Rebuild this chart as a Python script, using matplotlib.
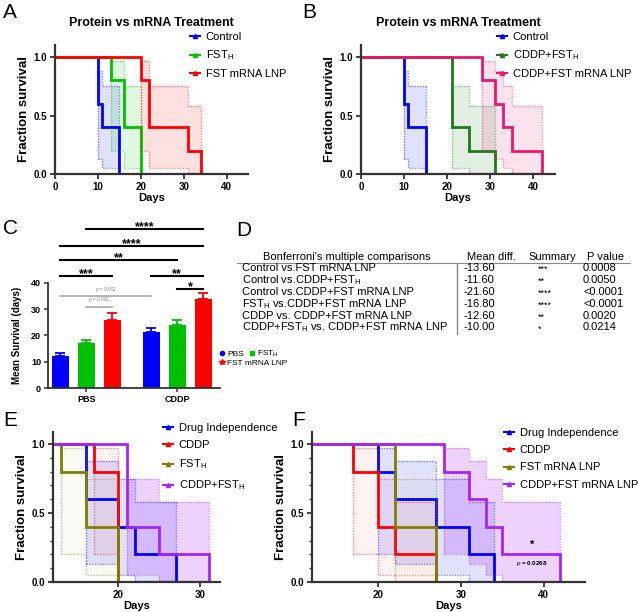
import matplotlib
matplotlib.use("Agg")
import matplotlib.pyplot as plt
from matplotlib.lines import Line2D
from matplotlib.ticker import FormatStrFormatter, MultipleLocator
import numpy as np

plt.rcParams['font.family'] = 'Liberation Sans'
plt.rcParams['mathtext.fontset'] = 'custom'
plt.rcParams['mathtext.rm'] = 'Liberation Sans'
plt.rcParams['mathtext.it'] = 'Liberation Sans:italic'
plt.rcParams['mathtext.bf'] = 'Liberation Sans:bold'

H_SUB = r'$_{\mathregular{H}}$'

BLUE = '#0000ff'
RED = '#ff0000'
GREEN = '#00c000'
DKGREEN = '#1c7a1c'
PINK = '#e8186e'
OLIVE = '#808000'
PURPLE = '#a526f0'
AXCOL = '#333333'

# ---- survival data: drop days, survival after each drop, 95% CI per interval
# panel A
A_ctrl_t = [0, 10, 11, 15]
A_ctrl_s = [1, 0.6, 0.4, 0]
A_ctrl_hi = [0.88, 0.75]
A_ctrl_lo = [0.13, 0.05]
A_fst_t = [0, 13, 16, 20]
A_fst_s = [1, 0.8, 0.4, 0]
A_fst_hi = [0.97, 0.75]
A_fst_lo = [0.20, 0.05]
A_lnp_t = [0, 20, 22, 31, 34]
A_lnp_s = [1, 0.8, 0.4, 0.2, 0]
A_lnp_hi = [0.97, 0.75, 0.58]
A_lnp_lo = [0.20, 0.05, 0.01]
# panel B
B_cfst_t = [0, 21, 25, 31]
B_cfst_s = [1, 0.4, 0.2, 0]
B_cfst_hi = [0.75, 0.58]
B_cfst_lo = [0.05, 0.01]
B_clnp_t = [0, 28, 31, 33, 35, 42]
B_clnp_s = [1, 0.8, 0.6, 0.4, 0.2, 0]
B_clnp_hi = [0.97, 0.88, 0.75, 0.58]
B_clnp_lo = [0.20, 0.13, 0.05, 0.01]
# panel E
E_drug_t = [0, 16, 20, 22, 27]
E_drug_s = [1, 0.6, 0.4, 0.2, 0]
E_drug_hi = [0.88, 0.75, 0.58]
E_drug_lo = [0.13, 0.05, 0.01]
E_cddp_t = [0, 17, 20]
E_cddp_s = [1, 0.8, 0]
E_cddp_hi = [0.97]
E_cddp_lo = [0.20]
E_fst_t = [0, 13, 16, 20]
E_fst_s = [1, 0.8, 0.4, 0]
E_fst_hi = [0.97, 0.75]
E_fst_lo = [0.20, 0.05]
E_comb_t = [0, 21, 25, 31]
E_comb_s = [1, 0.4, 0.2, 0]
E_comb_hi = [0.75, 0.58]
E_comb_lo = [0.05, 0.01]
# panel F
F_drug_t = [0, 20, 22, 27, 31, 34]
F_drug_s = [1, 0.8, 0.6, 0.4, 0.2, 0]
F_drug_hi = [0.97, 0.88, 0.75, 0.58]
F_drug_lo = [0.20, 0.13, 0.05, 0.01]
F_cddp_t = [0, 17, 20, 22, 27]
F_cddp_s = [1, 0.8, 0.4, 0.2, 0]
F_cddp_hi = [0.97, 0.75, 0.58]
F_cddp_lo = [0.20, 0.05, 0.01]
F_lnp_t = [0, 22, 27]
F_lnp_s = [1, 0.4, 0]
F_lnp_hi = [0.75]
F_lnp_lo = [0.05]
F_comb_t = [0, 28, 31, 33, 35, 42]
F_comb_s = [1, 0.8, 0.6, 0.4, 0.2, 0]
F_comb_hi = [0.97, 0.88, 0.75, 0.58]
F_comb_lo = [0.20, 0.13, 0.05, 0.01]

# ---- panel C bar data
C_groups = ['PBS', 'CDDP']
C_pbs = [12.2, 17.0, 25.8]
C_cddp = [21.2, 23.8, 33.8]
C_pbs_err = [1.2, 1.3, 2.8]
C_cddp_err = [1.7, 2.0, 2.3]
C_colors = [BLUE, GREEN, RED]
# bracket: bar i, bar j, height, label
C_sig = [(1, 5, 60.6, '****'), (0, 5, 54.0, '****'), (0, 4, 48.8, '**'),
         (0, 2, 42.7, '***'), (3, 5, 42.7, '**'), (4, 5, 37.7, '*')]
C_ns = [(0, 3, 35.0, 'p = 0.052'), (1, 2, 30.9, 'p = 0.062')]

# ---- panel D table
D_rows = ['Control vs.FST mRNA LNP', 'Control vs.CDDP+FST' + H_SUB,
          'Control vs.CDDP+FST mRNA LNP', 'FST' + H_SUB + ' vs.CDDP+FST mRNA LNP',
          'CDDP vs. CDDP+FST mRNA LNP', 'CDDP+FST' + H_SUB + ' vs. CDDP+FST mRNA LNP']
D_diff = ['-13.60', '-11.60', '-21.60', '-16.80', '-12.60', '-10.00']
D_summ = ['***', '**', '****', '****', '**', '*']
D_pval = ['0.0008', '0.0050', '<0.0001', '<0.0001', '0.0020', '0.0214']

W, H = 638, 612
fig = plt.figure(figsize=(W / 100, H / 100), dpi=100)


def add_ax(l, t, r, b):
    return fig.add_axes([l / W, 1 - b / H, (r - l) / W, (b - t) / H])


def km(ax, t, s, hi, lo, color, a=0.12):
    x = t[1:]
    up = hi + hi[-1:]
    dn = lo + lo[-1:]
    ax.fill_between(x, dn, up, step='post', color=color, alpha=a, lw=0)
    for yy in (up, dn):
        ax.step(x, yy, where='post', color=color, lw=1, ls=(0, (1, 1)), alpha=0.45)
    ax.vlines([x[0], x[-1]], [dn[0], dn[-1]], [up[0], up[-1]], color=color,
              lw=1, ls=(0, (1, 1)), alpha=0.45)
    ax.step(t, s, where='post', color=color, lw=2, solid_joinstyle='miter')


def style(ax, xlim, ylim, xticks, minor=False):
    ax.set_xlim(xlim)
    ax.set_ylim(ylim)
    ax.set_xticks(xticks)
    ax.set_yticks([0, 0.5, 1.0])
    ax.yaxis.set_major_formatter(FormatStrFormatter('%.1f'))
    if minor:
        ax.yaxis.set_minor_locator(MultipleLocator(0.1))
        ax.tick_params(axis='y', which='minor', length=2, width=1, color=AXCOL)
    for sp in ('top', 'right'):
        ax.spines[sp].set_visible(False)
    for sp in ('left', 'bottom'):
        ax.spines[sp].set_linewidth(1.6)
        ax.spines[sp].set_color(AXCOL)
    ax.tick_params(which='major', length=3.5, width=1.3, color=AXCOL, labelsize=7, pad=2)
    for lb in ax.get_xticklabels() + ax.get_yticklabels():
        lb.set_fontweight('bold')
    ax.set_xlabel('Days', fontsize=8, fontweight='bold', labelpad=1)
    ax.set_ylabel('Fraction survival', fontsize=9.5, fontweight='bold', labelpad=3)


def legend(items, x, y, fs=8, spacing=0.6):
    hs = [Line2D([], [], color=c, lw=1.5, marker='^', markersize=3) for c, _ in items]
    fig.legend(hs, [l for _, l in items], loc='upper left', bbox_to_anchor=(x / W, 1 - y / H),
               frameon=False, fontsize=fs, borderpad=0, handlelength=0.9, handletextpad=0.5,
               labelspacing=spacing, borderaxespad=0)


# ---- A
axA = add_ax(55, 45, 248, 174)
km(axA, A_ctrl_t, A_ctrl_s, A_ctrl_hi, A_ctrl_lo, BLUE)
km(axA, A_fst_t, A_fst_s, A_fst_hi, A_fst_lo, GREEN)
km(axA, A_lnp_t, A_lnp_s, A_lnp_hi, A_lnp_lo, RED)
style(axA, (0, 45), (0, 1.103), [0, 10, 20, 30, 40])
axA.set_title('Protein vs mRNA Treatment', fontsize=9, fontweight='bold', pad=14)
legend([(BLUE, 'Control'), (GREEN, 'FST' + H_SUB), (RED, 'FST mRNA LNP')], 190, 32)

# ---- B
axB = add_ax(361, 45, 555, 174)
km(axB, A_ctrl_t, A_ctrl_s, A_ctrl_hi, A_ctrl_lo, BLUE)
km(axB, B_cfst_t, B_cfst_s, B_cfst_hi, B_cfst_lo, DKGREEN)
km(axB, B_clnp_t, B_clnp_s, B_clnp_hi, B_clnp_lo, PINK)
style(axB, (0, 45), (0, 1.103), [0, 10, 20, 30, 40])
axB.set_title('Protein vs mRNA Treatment', fontsize=9, fontweight='bold', pad=14)
legend([(BLUE, 'Control'), (DKGREEN, 'CDDP+FST' + H_SUB), (PINK, 'CDDP+FST mRNA LNP')], 497, 32)

# ---- C
axC = add_ax(48, 225, 220, 388)
xpos = np.concatenate([np.arange(3), np.arange(3) + 3.5])
vals = C_pbs + C_cddp
errs = C_pbs_err + C_cddp_err
cols = C_colors * 2
for xi, v, e, c in zip(xpos, vals, errs, cols):
    axC.bar(xi, v, width=0.65, color=c, zorder=2)
    axC.errorbar(xi, v, yerr=[[0], [e]], color=c, capsize=3.5, elinewidth=1.3, capthick=1.3, zorder=1)
for i, j, h, lab in C_sig:
    axC.plot([xpos[i], xpos[j]], [h, h], color='black', lw=1.5, clip_on=False)
    axC.text((xpos[i] + xpos[j]) / 2, h - 0.4, lab, ha='center', va='baseline', fontsize=9,
             fontweight='bold', clip_on=False)
for i, j, h, lab in C_ns:
    axC.plot([xpos[i], xpos[j]], [h, h], color='#a0a0a0', lw=1.1)
    axC.text((xpos[i] + xpos[j]) / 2, h + 0.9, r'$\it{p}$' + lab[1:], ha='center', va='bottom',
             fontsize=3.5, color='#888888')
axC.set_xlim(-0.47, 6.15)
axC.set_ylim(0, 62)
axC.set_yticks([0, 10, 20, 30, 40])
axC.set_xticks([1, 4.5])
axC.set_xticklabels(C_groups)
axC.spines['left'].set_bounds(0, 40)
for sp in ('top', 'right'):
    axC.spines[sp].set_visible(False)
for sp in ('left', 'bottom'):
    axC.spines[sp].set_linewidth(1.3)
    axC.spines[sp].set_color(AXCOL)
axC.tick_params(length=3, width=1.1, color=AXCOL, labelsize=6.5, pad=2)
for lb in axC.get_xticklabels() + axC.get_yticklabels():
    lb.set_fontweight('bold')
axC.set_ylabel('Mean Survival (days)', fontsize=7, fontweight='bold')
axC.yaxis.set_label_coords(-0.15, 20 / 62)
leg_kw = dict(loc='upper left', frameon=False, fontsize=6, borderpad=0, handlelength=0.7,
              handletextpad=0.3, columnspacing=0.6, borderaxespad=0)
h1 = [Line2D([], [], ls='', marker='o', color=BLUE, markersize=3),
      Line2D([], [], ls='', marker='s', color=GREEN, markersize=3)]
fig.legend(h1, ['PBS', 'FST' + H_SUB], ncol=2, bbox_to_anchor=(219 / W, 1 - 349 / H), **leg_kw)
h2 = [Line2D([], [], ls='', marker='*', color=RED, markersize=4)]
fig.legend(h2, ['FST mRNA LNP'], bbox_to_anchor=(219 / W, 1 - 359 / H), **leg_kw)

# ---- D table
fs = 8
fig.text(347 / W, 1 - 257 / H, "Bonferroni's multiple comparisons", ha='center', va='center', fontsize=fs)
fig.text(467 / W, 1 - 257 / H, 'Mean diff.', ha='left', va='center', fontsize=fs)
fig.text(528 / W, 1 - 257 / H, 'Summary', ha='left', va='center', fontsize=fs)
fig.text(587 / W, 1 - 257 / H, 'P value', ha='left', va='center', fontsize=fs)
fig.add_artist(Line2D([237 / W, 630 / W], [1 - 263 / H, 1 - 263 / H], color='#888888', lw=0.8))
fig.add_artist(Line2D([457 / W, 457 / W], [1 - 263 / H, 1 - 334 / H], color='#888888', lw=1))
for k in range(len(D_rows)):
    yy = 1 - (268 + 11.9 * k) / H
    fig.text(242 / W, yy, D_rows[k], ha='left', va='center', fontsize=fs)
    fig.text(463 / W, yy, D_diff[k], ha='left', va='center', fontsize=fs)
    fig.text(538 / W, yy - 1.5 / H, D_summ[k], ha='left', va='center', fontsize=6.5)
    fig.text(583 / W, yy, D_pval[k], ha='left', va='center', fontsize=fs)

# ---- E
axE = add_ax(53, 432, 220, 582)
km(axE, E_drug_t, E_drug_s, E_drug_hi, E_drug_lo, BLUE)
km(axE, E_cddp_t, E_cddp_s, E_cddp_hi, E_cddp_lo, RED, a=0.05)
km(axE, E_fst_t, E_fst_s, E_fst_hi, E_fst_lo, OLIVE, a=0.04)
km(axE, E_comb_t, E_comb_s, E_comb_hi, E_comb_lo, PURPLE, a=0.2)
style(axE, (12, 32.4), (0, 1.087), [20, 30], minor=True)
legend([(BLUE, 'Drug Independence'), (RED, 'CDDP'), (OLIVE, 'FST' + H_SUB),
        (PURPLE, 'CDDP+FST' + H_SUB)], 163, 423, spacing=0.65)

# ---- F
axF = add_ax(312, 432, 585, 582)
km(axF, F_drug_t, F_drug_s, F_drug_hi, F_drug_lo, BLUE)
km(axF, F_cddp_t, F_cddp_s, F_cddp_hi, F_cddp_lo, RED, a=0.05)
km(axF, F_lnp_t, F_lnp_s, F_lnp_hi, F_lnp_lo, OLIVE, a=0.04)
km(axF, F_comb_t, F_comb_s, F_comb_hi, F_comb_lo, PURPLE, a=0.2)
style(axF, (12, 45), (0, 1.087), [20, 30, 40], minor=True)
legend([(BLUE, 'Drug Independence'), (RED, 'CDDP'), (OLIVE, 'FST mRNA LNP'),
        (PURPLE, 'CDDP+FST mRNA LNP')], 504, 428, spacing=0.65)
axF.text(38.6, 0.23, '*', ha='center', va='bottom', fontsize=8, fontweight='bold')
axF.text(38.6, 0.17, r'$\it{p}$ = 0.0268', ha='center', va='top', fontsize=4.5, fontweight='bold')

# ---- panel letters
for lab, x, y in [('A', 3, 3), ('B', 302, 3), ('C', 3, 219), ('D', 236, 221), ('E', 3, 411), ('F', 292, 411)]:
    fig.text(x / W, 1 - y / H, lab, ha='left', va='top', fontsize=15)

fig.savefig('out.png', dpi=100)
